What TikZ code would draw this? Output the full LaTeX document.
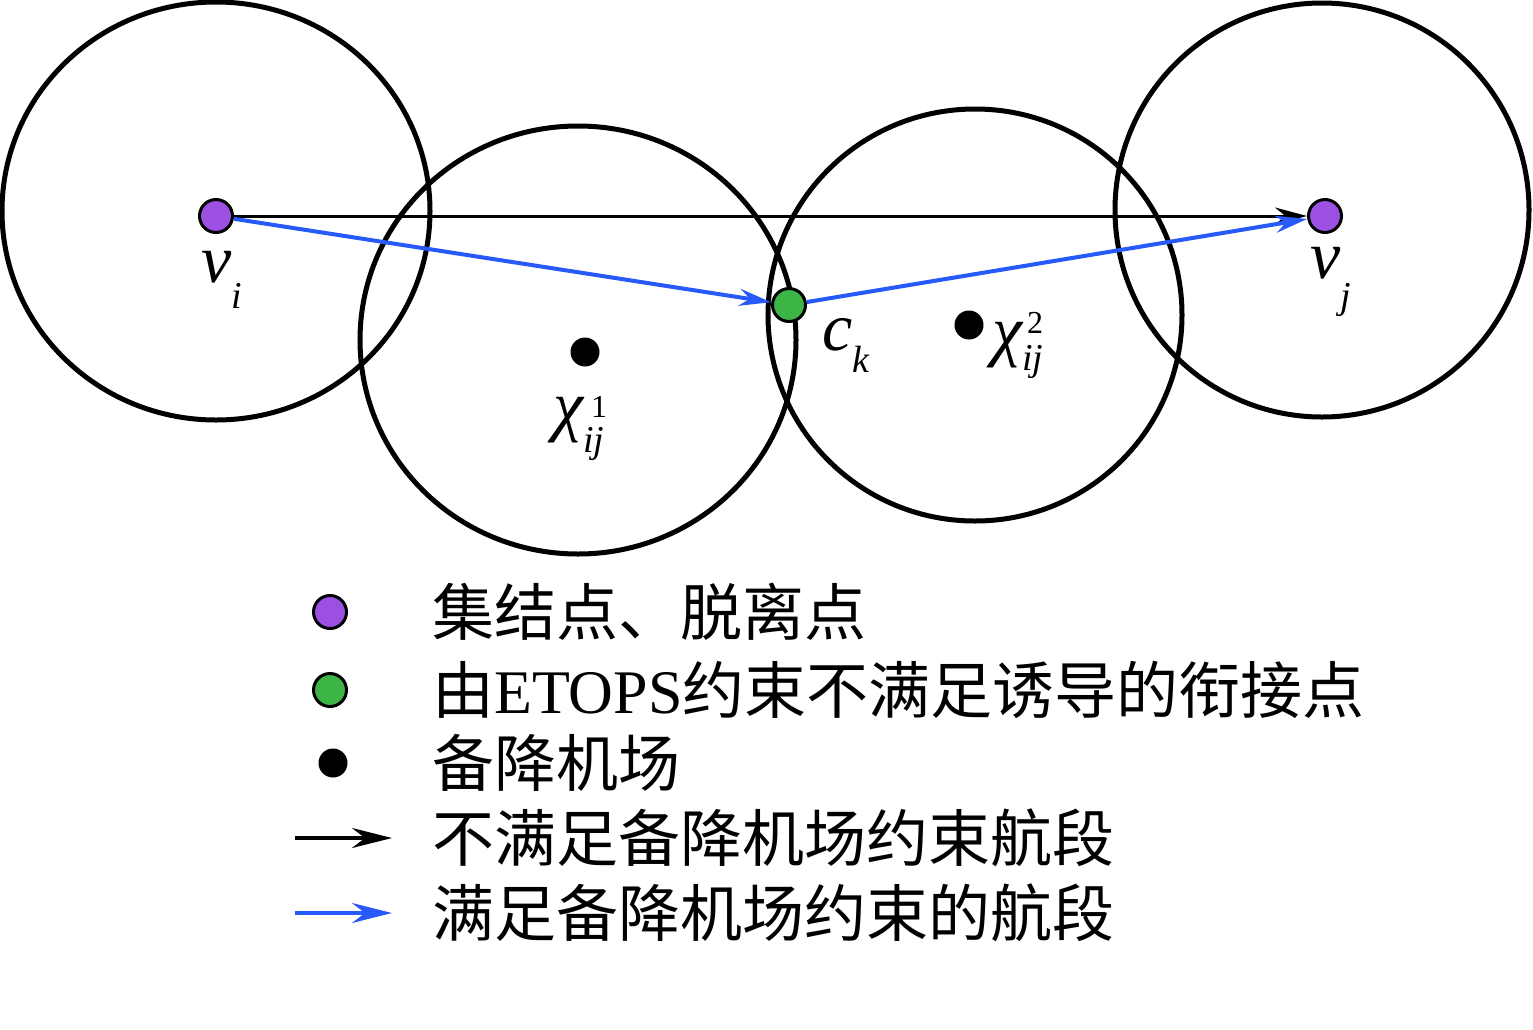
\documentclass[tikz,border=0pt]{standalone}
\usepackage{fontspec}
\setmainfont{Liberation Serif}
\newfontfamily\cjk{Noto Sans CJK SC}
\usetikzlibrary{arrows.meta}
\definecolor{ptpurple}{RGB}{155,80,225}
\definecolor{ptgreen}{RGB}{60,180,70}
\definecolor{ptblue}{RGB}{40,90,250}
\newcommand\ptsub[2]{\raisebox{-#1}{\fontsize{38}{38}\selectfont #2}}
\newcommand\ptsup[3]{\rlap{\hspace{#1}\raisebox{#2}{\fontsize{32}{32}\selectfont\upshape #3}}}
\begin{document}
\begin{tikzpicture}[x=1pt,y=-1pt,
  ring/.style={draw=black,line width=5pt},
  pt/.style={circle,draw=black,line width=3pt,minimum size=33pt,inner sep=0pt},
  apt/.style={circle,fill=black,minimum size=29pt,inner sep=0pt},
  lbl/.style={inner sep=0pt,anchor=base west,font=\fontsize{68}{68}\selectfont\itshape},
  leg/.style={inner sep=0pt,anchor=west,font=\fontsize{62}{62}\selectfont\cjk},
  blk/.style={draw=black,line width=3pt,-{Stealth[length=32pt,width=17pt]}},
  blu/.style={draw=ptblue,line width=4pt,-{Stealth[length=32pt,width=17pt]}},
  lblk/.style={draw=black,line width=3.5pt,-{Stealth[length=40pt,width=20pt]}},
  lblu/.style={draw=ptblue,line width=4pt,-{Stealth[length=40pt,width=20pt]}}]
\useasboundingbox (0,0) rectangle (1533,1029);
% circles
\draw[ring] (216,211) ellipse [x radius=214, y radius=209];
\draw[ring] (578,340) ellipse [x radius=218, y radius=214];
\draw[ring] (975,315) ellipse [x radius=207, y radius=206];
\draw[ring] (1322,210) ellipse [x radius=207, y radius=207];
% points
\node[pt,fill=ptpurple] (vi) at (216,216) {};
\node[pt,fill=ptpurple] (vj) at (1325,216) {};
\node[pt,fill=ptgreen] (ck) at (789,305) {};
\node[apt] (x1) at (585,352) {};
\node[apt] (x2) at (969,325) {};
% connectors
\draw[blk] (vi) -- (vj);
\draw[blu] (vi) -- (ck);
\draw[blu] (ck) -- (vj);
% labels
\node[lbl] (vil) at (201,282) {v\ptsub{26pt}{i}};
\node[lbl] (vjl) at (1310,278) {v\ptsub{30pt}{j}};
\node[lbl] (ckl) at (822,350) {c\ptsub{22pt}{k}};
\node[lbl] (x1l) at (553,428) {χ\ptsup{8pt}{11pt}{1}\ptsub{24pt}{ij}};
\node[lbl] (x2l) at (992,353) {χ\ptsup{5pt}{20pt}{2}\ptsub{17pt}{ij}};
% legend
\node[pt,fill=ptpurple] (l1) at (330,612) {};
\node[pt,fill=ptgreen] (l2) at (330,690) {};
\node[apt] (l3) at (333,763) {};
\coordinate (a1s) at (295,838);
\coordinate (a1e) at (392,838);
\coordinate (a2s) at (295,913);
\coordinate (a2e) at (392,913);
\draw[lblk] (a1s) -- (a1e);
\draw[lblu] (a2s) -- (a2e);
\node[leg] (t1) at (432,612) {集结点、脱离点};
\node[leg] (t2) at (432,690) {由{\rmfamily ETOPS}约束不满足诱导的衔接点};
\node[leg] (t3) at (432,763) {备降机场};
\node[leg] (t4) at (432,838) {不满足备降机场约束航段};
\node[leg] (t5) at (432,913) {满足备降机场约束的航段};
\end{tikzpicture}
\end{document}
